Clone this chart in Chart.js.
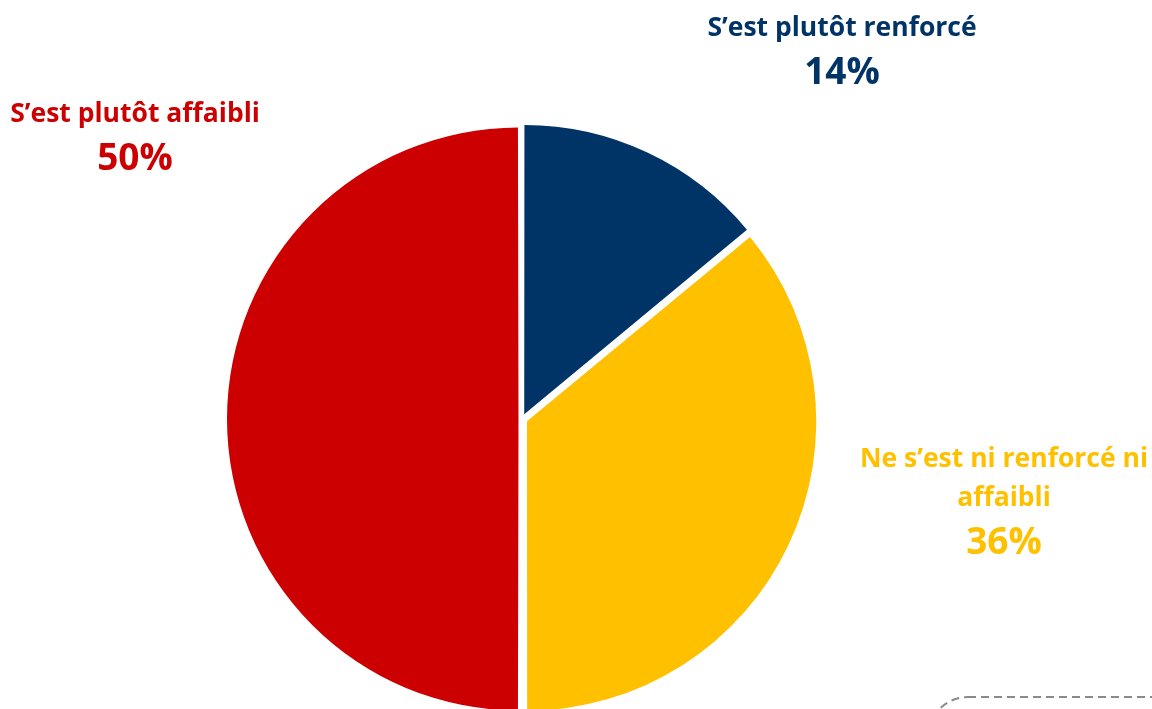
<!DOCTYPE html>
<html>
<head>
<meta charset="utf-8">
<script src="https://cdn.jsdelivr.net/npm/chart.js@4.4.2/dist/chart.umd.min.js"></script>
<style>
    html, body { margin: 0; padding: 0; background: #ffffff; }
    #wrap { position: relative; width: 1152px; height: 709px; overflow: hidden; }
</style>
</head>
<body>
<div id="wrap"><canvas id="pieChart" width="1152" height="709"></canvas></div>
<script>
// Chart data
const categories = ["S’est plutôt renforcé", "Ne s’est ni renforcé ni affaibli", "S’est plutôt affaibli"];
const labelLines = [["S’est plutôt renforcé"], ["Ne s’est ni renforcé ni", "affaibli"], ["S’est plutôt affaibli"]];
const values = [14, 36, 50];
const colors = ["#003366", "#FFC000", "#CC0000"];

// Where each label block sits (center x, baseline of first line)
const labelAnchors = [
    { x: 842, y: 36 },
    { x: 1004, y: 467 },
    { x: 135, y: 122 }
];

const labelFont = "'Open Sans', Lato, sans-serif";

// Draws the category names and percentages around the pie
const labelPlugin = {
    id: "pieLabels",
    afterDraw(chart) {
        const ctx = chart.ctx;
        ctx.save();
        ctx.textAlign = "center";
        ctx.textBaseline = "alphabetic";
        values.forEach((v, i) => {
            const a = labelAnchors[i];
            ctx.fillStyle = colors[i];
            ctx.font = `bold 26.5px ${labelFont}`;
            let y = a.y;
            labelLines[i].forEach((line, j) => {
                if (j > 0) y += 39;
                ctx.fillText(line, a.x, y);
            });
            ctx.font = `bold 37px ${labelFont}`;
            ctx.fillText(`${v}%`, a.x, y + 48);
        });

        // dashed rounded frame peeking in at the bottom right
        ctx.strokeStyle = "#8a8a8a";
        ctx.lineWidth = 2;
        ctx.setLineDash([8, 5]);
        ctx.beginPath();
        ctx.roundRect(928, 697, 300, 120, 40);
        ctx.stroke();
        ctx.restore();
    }
};

new Chart(document.getElementById("pieChart"), {
    type: "pie",
    data: {
        labels: categories,
        datasets: [{
            data: values,
            backgroundColor: colors,
            borderWidth: 0,
            offset: [21, 22, 14]
        }]
    },
    options: {
        responsive: false,
        animation: false,
        radius: 288,
        layout: { padding: { left: 0, right: 108, top: 129, bottom: 0 } },
        plugins: {
            legend: { display: false },
            tooltip: { enabled: false }
        }
    },
    plugins: [labelPlugin]
});
</script>
</body>
</html>
